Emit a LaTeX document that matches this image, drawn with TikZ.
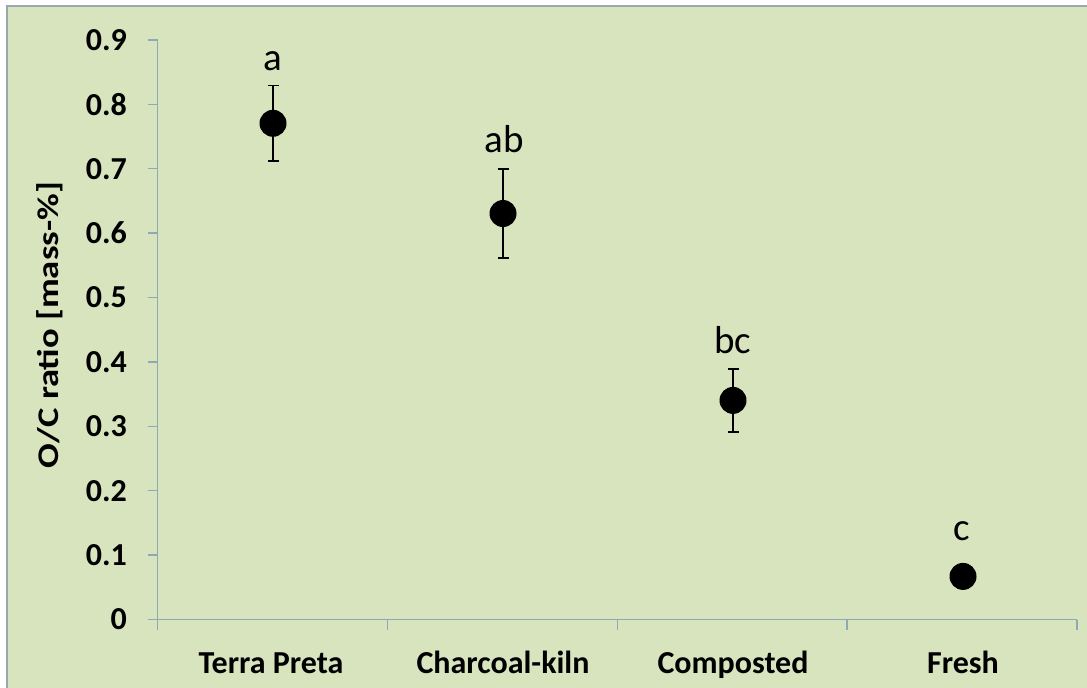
\documentclass[tikz,border=0pt]{standalone}
\usepackage{fontspec}
\setmainfont{Carlito}
\usetikzlibrary{arrows.meta}
\definecolor{plotbg}{HTML}{D8E4BE}
\definecolor{axisline}{HTML}{8EA8B6}
\definecolor{frameline}{HTML}{97A8AF}
\tikzset{point/.style = {shape=circle,fill=black,inner sep=0pt,minimum size=27pt}}
\tikzset{errbar/.style = {{Bar[width=11pt]}-{Bar[width=11pt]},line width=1.6pt}}
\tikzset{ticklabel/.style = {font=\fontsize{32}{36}\selectfont\bfseries,anchor=east,inner sep=0pt}}
\tikzset{catlabel/.style = {font=\fontsize{32}{36}\selectfont\bfseries,anchor=base,inner sep=0pt}}
\tikzset{group/.style = {font=\fontsize{39}{42}\selectfont,anchor=base,inner sep=0pt}}

\begin{document}
\begin{tikzpicture}[x=1pt,y=-1pt]
  \useasboundingbox (0,0) rectangle (1087,688);
  \fill[white] (0,0) rectangle (1087,688);
  \fill[plotbg] (7,6) rectangle (1087,688);
  \draw[frameline,line width=2pt] (7,688) -- (7,6) -- (1087,6);

  % axes
  \coordinate (o) at (157.5,619.5);
  \coordinate (ytop) at (157.5,39);
  \coordinate (xend) at (1077,619.5);
  \draw[axisline,line width=1.5pt] (ytop) -- (o) -- (xend);
  \foreach \v/\t in {0/0,1/0.1,2/0.2,3/0.3,4/0.4,5/0.5,6/0.6,7/0.7,8/0.8,9/0.9} {
    \draw[axisline,line width=1.5pt] (148,619.5-64.4*\v) -- (157.5,619.5-64.4*\v);
    \node[ticklabel] (y\v) at (127,619.5-64.4*\v) {\t};
  }
  \foreach \k in {0,1,2,3,4}
    \draw[axisline,line width=1.5pt] (157.5+229.9*\k,619.5) -- (157.5+229.9*\k,630);

  \node[rotate=90,xscale=1.22,font=\fontsize{30}{36}\selectfont\bfseries] (ylabel) at (50,325) {O/C ratio [mass-\%]};

  \node[catlabel] (tp) at (271,673) {Terra Preta};
  \node[catlabel] (ck) at (503,673) {Charcoal-kiln};
  \node[catlabel] (cp) at (733,673) {Composted};
  \node[catlabel] (fr) at (963,673) {Fresh};

  % error bars
  \coordinate (tphi) at (273,84.6);
  \coordinate (tplo) at (273,162.0);
  \coordinate (ckhi) at (503,168.4);
  \coordinate (cklo) at (503,258.6);
  \coordinate (cphi) at (733,368.2);
  \coordinate (cplo) at (733,432.6);
  \draw[errbar] (tphi) -- (tplo);
  \draw[errbar] (ckhi) -- (cklo);
  \draw[errbar] (cphi) -- (cplo);

  % means
  \node[point] (ptp) at (273,123.3) {};
  \node[point] (pck) at (503,213.5) {};
  \node[point] (pcp) at (733,400.4) {};
  \node[point] (pfr) at (963,576.4) {};

  \node[group] (ga) at (273,70) {a};
  \node[group] (gab) at (504,152) {ab};
  \node[group] (gbc) at (733,353) {bc};
  \node[group] (gc) at (962,540) {c};
\end{tikzpicture}
\end{document}
